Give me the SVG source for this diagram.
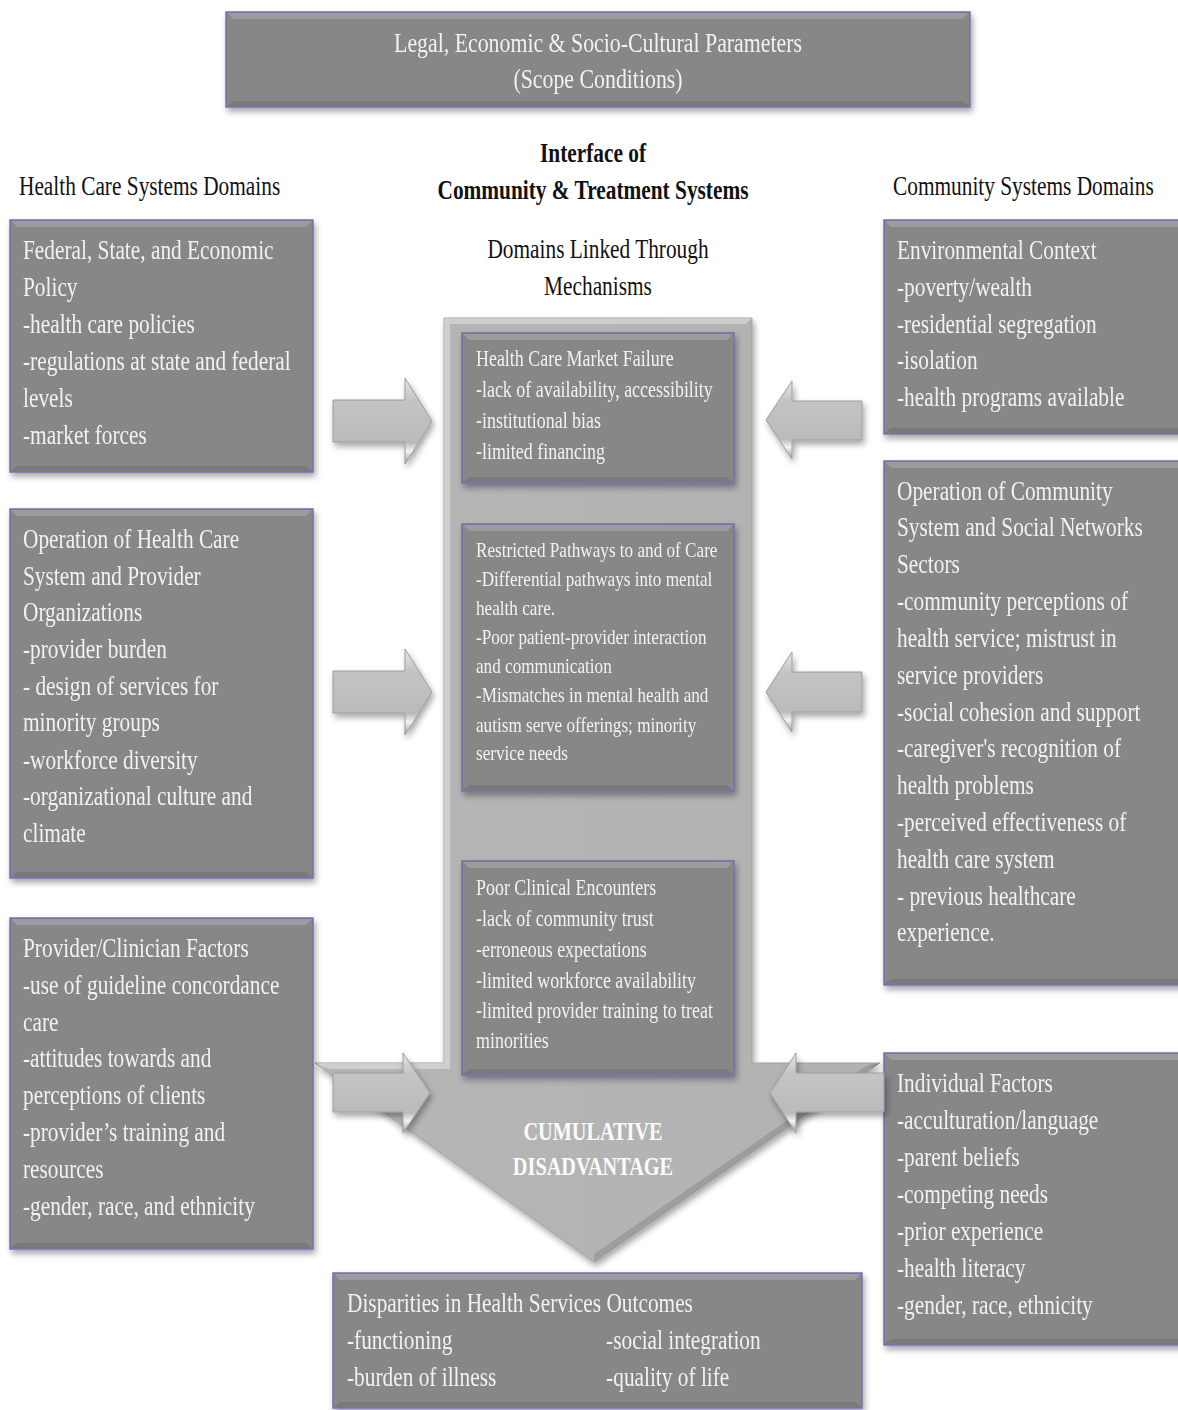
<svg xmlns="http://www.w3.org/2000/svg" width="1178" height="1410" viewBox="0 0 1178 1410">
<defs>
<filter id="sh" x="-10%" y="-10%" width="125%" height="125%">
<feDropShadow dx="2" dy="4" stdDeviation="3" flood-color="#000" flood-opacity="0.35"/>
</filter>
<linearGradient id="arrR" x1="0" y1="0" x2="0" y2="1">
<stop offset="0" stop-color="#e6e6e6"/>
<stop offset="0.25" stop-color="#c4c4c4"/>
<stop offset="0.75" stop-color="#bababa"/>
<stop offset="0.85" stop-color="#f4f4f4"/>
<stop offset="1" stop-color="#9a9a9a"/>
</linearGradient>
<linearGradient id="shaft" x1="0" y1="0" x2="1" y2="0">
<stop offset="0" stop-color="#d8d8d8"/>
<stop offset="0.02" stop-color="#b6b6b6"/>
<stop offset="0.98" stop-color="#b2b2b2"/>
<stop offset="1" stop-color="#8e8e8e"/>
</linearGradient>
<style>
.box{fill:#878787;stroke:#7b6bb3;stroke-width:1.5}
.bevT{fill:#ffffff;opacity:0.18}
.bevB{fill:#000000;opacity:0.1}
.t{font-family:"Liberation Serif","Times New Roman",serif;fill:#f2f2f2}
.s27{font-size:27px}
.s28{font-size:28px}
.s23{font-size:23px}
.s22{font-size:22px}
.h{font-family:"Liberation Serif","Times New Roman",serif;fill:#111;font-size:27px}
.hb{font-family:"Liberation Serif","Times New Roman",serif;fill:#111;font-size:27px;font-weight:bold}
.cd{font-family:"Liberation Serif","Times New Roman",serif;fill:#fbfbfb;font-size:26px;font-weight:bold}
.arr{fill:url(#arrR);stroke:#9c9c9c;stroke-width:1}
</style>
</defs>
<rect width="1178" height="1410" fill="#ffffff"/>

<!-- Big central arrow -->
<g id="central-arrow" filter="url(#sh)">
<path d="M444,318 H752 V1063 H880 L594,1262 L315,1063 H444 Z" fill="url(#shaft)" stroke="#a0a0a0" stroke-width="1"/>
<path d="M444,318 H752 L746,324 H450 V1069 H330 L315,1063 H444 Z" fill="#ffffff" opacity="0.35"/>
<path d="M880,1063 L594,1262 L594,1254 L866,1066 Z" fill="#000" opacity="0.12"/>
</g>

<!-- Top box -->
<g id="scope" filter="url(#sh)">
<rect class="box" x="226" y="12" width="744" height="95"/>
<polygon class="bevT" points="227,13 969,13 963,19 233,19"/>
<polygon class="bevB" points="227,106 969,106 963,101 233,101"/>
<g transform="translate(598,0) scale(0.78,1)"><text class="t s28" text-anchor="middle"><tspan x="0" y="52">Legal, Economic &amp; Socio-Cultural Parameters</tspan><tspan x="0" y="88">(Scope Conditions)</tspan></text></g>
</g>

<!-- Headings -->
<g id="headings">
<g transform="translate(19,0) scale(0.79,1)"><text class="h" x="0" y="195">Health Care Systems Domains</text></g>
<g transform="translate(893,0) scale(0.79,1)"><text class="h" x="0" y="195">Community Systems Domains</text></g>
<g transform="translate(593,0) scale(0.79,1)"><text class="hb" text-anchor="middle"><tspan x="0" y="162">Interface of</tspan><tspan x="0" y="199">Community &amp; Treatment Systems</tspan></text></g>
<g transform="translate(598,0) scale(0.79,1)"><text class="h" text-anchor="middle"><tspan x="0" y="258">Domains Linked Through</tspan><tspan x="0" y="295">Mechanisms</tspan></text></g>
</g>

<!-- Left boxes -->
<g id="federal-policy" filter="url(#sh)">
<rect class="box" x="10" y="220" width="303" height="252"/>
<polygon class="bevT" points="11,221 312,221 306,227 17,227"/>
<polygon class="bevB" points="11,471 312,471 306,466 17,466"/>
<g transform="translate(23,0) scale(0.79,1)"><text class="t s27"><tspan x="0" y="259">Federal, State, and Economic</tspan><tspan x="0" y="296">Policy</tspan><tspan x="0" y="333">-health care policies</tspan><tspan x="0" y="370">-regulations at state and federal</tspan><tspan x="0" y="407">levels</tspan><tspan x="0" y="444">-market forces</tspan></text></g>
</g>

<g id="operation-health-care" filter="url(#sh)">
<rect class="box" x="10" y="509" width="303" height="369"/>
<polygon class="bevT" points="11,510 312,510 306,516 17,516"/>
<polygon class="bevB" points="11,877 312,877 306,872 17,872"/>
<g transform="translate(23,0) scale(0.79,1)"><text class="t s27"><tspan x="0" y="548">Operation of Health Care</tspan><tspan x="0" y="585">System and Provider</tspan><tspan x="0" y="621">Organizations</tspan><tspan x="0" y="658">-provider burden</tspan><tspan x="0" y="695">- design of services for</tspan><tspan x="0" y="731">minority groups</tspan><tspan x="0" y="769">-workforce diversity</tspan><tspan x="0" y="805">-organizational culture and</tspan><tspan x="0" y="842">climate</tspan></text></g>
</g>

<g id="provider-clinician" filter="url(#sh)">
<rect class="box" x="10" y="918" width="303" height="331"/>
<polygon class="bevT" points="11,919 312,919 306,925 17,925"/>
<polygon class="bevB" points="11,1248 312,1248 306,1243 17,1243"/>
<g transform="translate(23,0) scale(0.79,1)"><text class="t s27"><tspan x="0" y="957">Provider/Clinician Factors</tspan><tspan x="0" y="994">-use of guideline concordance</tspan><tspan x="0" y="1031">care</tspan><tspan x="0" y="1067">-attitudes towards and</tspan><tspan x="0" y="1104">perceptions of clients</tspan><tspan x="0" y="1141">-provider’s training and</tspan><tspan x="0" y="1178">resources</tspan><tspan x="0" y="1215">-gender, race, and ethnicity</tspan></text></g>
</g>

<!-- Right boxes -->
<g id="environmental" filter="url(#sh)">
<rect class="box" x="884" y="220" width="300" height="214"/>
<polygon class="bevT" points="885,221 1178,221 1178,227 891,227"/>
<polygon class="bevB" points="885,433 1178,433 1178,428 891,428"/>
<g transform="translate(897,0) scale(0.79,1)"><text class="t s27"><tspan x="0" y="259">Environmental Context</tspan><tspan x="0" y="296">-poverty/wealth</tspan><tspan x="0" y="333">-residential segregation</tspan><tspan x="0" y="369">-isolation</tspan><tspan x="0" y="406">-health programs available</tspan></text></g>
</g>

<g id="operation-community" filter="url(#sh)">
<rect class="box" x="884" y="461" width="300" height="524"/>
<polygon class="bevT" points="885,462 1178,462 1178,468 891,468"/>
<polygon class="bevB" points="885,984 1178,984 1178,979 891,979"/>
<g transform="translate(897,0) scale(0.79,1)"><text class="t s27"><tspan x="0" y="500">Operation of Community</tspan><tspan x="0" y="536">System and Social Networks</tspan><tspan x="0" y="573">Sectors</tspan><tspan x="0" y="610">-community perceptions of</tspan><tspan x="0" y="647">health service; mistrust in</tspan><tspan x="0" y="684">service providers</tspan><tspan x="0" y="721">-social cohesion and support</tspan><tspan x="0" y="757">-caregiver's recognition of</tspan><tspan x="0" y="794">health problems</tspan><tspan x="0" y="831">-perceived effectiveness of</tspan><tspan x="0" y="868">health care system</tspan><tspan x="0" y="905">- previous healthcare</tspan><tspan x="0" y="941">experience.</tspan></text></g>
</g>

<g id="individual" filter="url(#sh)">
<rect class="box" x="884" y="1053" width="300" height="292"/>
<polygon class="bevT" points="885,1054 1178,1054 1178,1060 891,1060"/>
<polygon class="bevB" points="885,1344 1178,1344 1178,1339 891,1339"/>
<g transform="translate(897,0) scale(0.79,1)"><text class="t s27"><tspan x="0" y="1092">Individual Factors</tspan><tspan x="0" y="1129">-acculturation/language</tspan><tspan x="0" y="1166">-parent beliefs</tspan><tspan x="0" y="1203">-competing needs</tspan><tspan x="0" y="1240">-prior experience</tspan><tspan x="0" y="1277">-health literacy</tspan><tspan x="0" y="1314">-gender, race, ethnicity</tspan></text></g>
</g>

<!-- Center boxes -->
<g id="market-failure" filter="url(#sh)">
<rect class="box" x="462" y="333" width="272" height="150"/>
<polygon class="bevT" points="463,334 733,334 727,340 469,340"/>
<polygon class="bevB" points="463,482 733,482 727,477 469,477"/>
<g transform="translate(476,0) scale(0.78,1)"><text class="t s23"><tspan x="0" y="366">Health Care Market Failure</tspan><tspan x="0" y="397">-lack of availability, accessibility</tspan><tspan x="0" y="428">-institutional bias</tspan><tspan x="0" y="459">-limited financing</tspan></text></g>
</g>

<g id="restricted-pathways" filter="url(#sh)">
<rect class="box" x="462" y="524" width="272" height="267"/>
<polygon class="bevT" points="463,525 733,525 727,531 469,531"/>
<polygon class="bevB" points="463,790 733,790 727,785 469,785"/>
<g transform="translate(476,0) scale(0.78,1)"><text class="t s22"><tspan x="0" y="557">Restricted Pathways to and of Care</tspan><tspan x="0" y="586">-Differential pathways into mental</tspan><tspan x="0" y="615">health care.</tspan><tspan x="0" y="644">-Poor patient-provider interaction</tspan><tspan x="0" y="673">and communication</tspan><tspan x="0" y="702">-Mismatches in mental health and</tspan><tspan x="0" y="732">autism serve offerings; minority</tspan><tspan x="0" y="760">service needs</tspan></text></g>
</g>

<g id="poor-clinical" filter="url(#sh)">
<rect class="box" x="462" y="861" width="272" height="214"/>
<polygon class="bevT" points="463,862 733,862 727,868 469,868"/>
<polygon class="bevB" points="463,1074 733,1074 727,1069 469,1069"/>
<g transform="translate(476,0) scale(0.78,1)"><text class="t s23"><tspan x="0" y="895">Poor Clinical Encounters</tspan><tspan x="0" y="926">-lack of community trust</tspan><tspan x="0" y="957">-erroneous expectations</tspan><tspan x="0" y="988">-limited workforce availability</tspan><tspan x="0" y="1018">-limited provider training to treat</tspan><tspan x="0" y="1048">minorities</tspan></text></g>
</g>

<g id="cumulative">
<g transform="translate(593,0) scale(0.78,1)"><text class="cd" text-anchor="middle"><tspan x="0" y="1140">CUMULATIVE</tspan><tspan x="0" y="1175">DISADVANTAGE</tspan></text></g>
</g>

<!-- Bottom box -->
<g id="disparities" filter="url(#sh)">
<rect class="box" x="333" y="1273" width="529" height="135"/>
<polygon class="bevT" points="334,1274 861,1274 855,1280 340,1280"/>
<polygon class="bevB" points="334,1407 861,1407 855,1402 340,1402"/>
<g transform="translate(347,0) scale(0.79,1)"><text class="t s27"><tspan x="0" y="1312">Disparities in Health Services Outcomes</tspan><tspan x="0" y="1349">-functioning</tspan><tspan x="0" y="1386">-burden of illness</tspan><tspan x="328" y="1349">-social integration</tspan><tspan x="328" y="1386">-quality of life</tspan></text></g>
</g>

<!-- Connectors: block arrows -->
<g id="connectors" filter="url(#sh)">
<path class="arr" d="M333,400 H405 V378 L432,421 L405,464 V442 H333 Z"/>
<path class="arr" d="M333,671 H405 V649 L432,692 L405,735 V713 H333 Z"/>
<path class="arr" d="M333,1073 H403 V1053 L430,1093 L403,1133 V1112 H333 Z"/>
<path class="arr" d="M862,401 H792 V381 L766,420 L792,459 V440 H862 Z"/>
<path class="arr" d="M862,672 H792 V652 L766,692 L792,732 V712 H862 Z"/>
<path class="arr" d="M884,1073 H796 V1053 L770,1093 L796,1133 V1112 H884 Z"/>
</g>
</svg>
